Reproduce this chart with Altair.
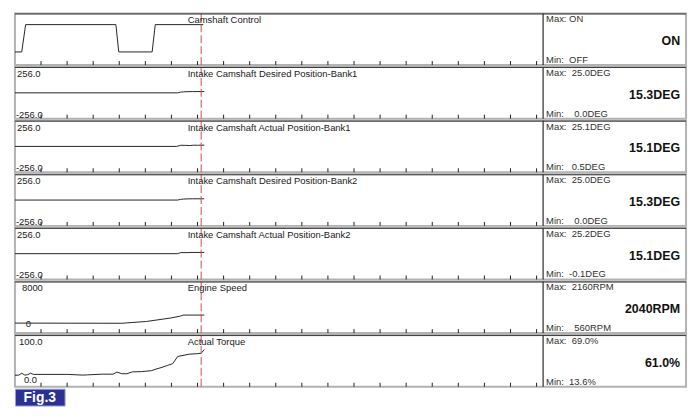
import altair as alt
import pandas as pd

# ---------------- data ----------------
# time unit = spacing between the small grid ticks along each strip
tick_times = list(range(1, 21))
plot_time_span = 20.25          # time span covered by the left (graph) part of a strip
cursor_time = 7.14              # red dashed cursor

titles = [
    "Camshaft Control",
    "Intake Camshaft Desired Position-Bank1",
    "Intake Camshaft Actual Position-Bank1",
    "Intake Camshaft Desired Position-Bank2",
    "Intake Camshaft Actual Position-Bank2",
    "Engine Speed",
    "Actual Torque",
]
top_labels = ["", "256.0", "256.0", "256.0", "256.0", "8000", "100.0"]
bottom_labels = ["", "-256.0", "-256.0", "-256.0", "-256.0", "0", "0.0"]
max_labels = ["Max: ON", "Max:\u00a0 25.0DEG", "Max:\u00a0 25.1DEG", "Max:\u00a0 25.0DEG",
              "Max:\u00a0 25.2DEG", "Max:\u00a0 2160RPM", "Max:\u00a0 69.0%"]
min_labels = ["Min:\u00a0 OFF", "Min:\u00a0\u00a0\u00a0 0.0DEG", "Min:\u00a0\u00a0 0.5DEG",
              "Min:\u00a0\u00a0\u00a0 0.0DEG", "Min:\u00a0 -0.1DEG", "Min:\u00a0\u00a0\u00a0 560RPM",
              "Min:\u00a0 13.6%"]
current_values = ["ON", "15.3DEG", "15.1DEG", "15.3DEG", "15.1DEG", "2040RPM", "61.0%"]

cam_control_t = [0, 0.26, 0.41, 3.87, 3.98, 5.26, 5.38, 7.22]
cam_control_v = [0, 0, 1, 1, 0, 0, 1, 1]          # 0 = OFF, 1 = ON

desired_b1_t = [0, 6.24, 6.35, 6.47, 6.6, 6.8, 7.26]
desired_b1_v = [0, 0, 8, 12, 14, 15, 15.3]

actual_b1_t = [0, 6.2, 6.36, 6.55, 6.7, 6.85, 7.0, 7.26]
actual_b1_v = [0.5, 0.5, 14, 13, 10, 15, 14, 15.1]

desired_b2_t = [0, 6.24, 6.35, 6.47, 6.6, 6.8, 7.26]
desired_b2_v = [0, 0, 8, 12, 14, 15, 15.3]

actual_b2_t = [0, 6.24, 6.36, 6.6, 6.75, 6.9, 7.26]
actual_b2_v = [-0.1, -0.1, 13, 12, 15, 14, 15.1]

engine_t = [0, 2.0, 4.1, 5.04, 5.98, 6.35, 6.45, 7.26]
engine_v = [600, 580, 570, 890, 1520, 1860, 2040, 2040]

torque_t = [0, 0.15, 0.26, 0.38, 0.49, 0.6, 0.71, 2.03, 2.6, 2.78, 3.35, 3.76, 3.91, 4.1,
            4.29, 4.51, 4.85, 5.23, 5.41, 5.6, 5.86, 6.05, 6.24, 6.69, 6.99, 7.14, 7.26]
torque_v = [13.6, 14, 18, 14, 15, 18, 15.5, 15.5, 14, 14.5, 16, 16, 20.5, 17,
            17, 21, 21.5, 23.5, 27, 30, 35, 38.5, 54, 59, 60, 61, 69]

series_t = [cam_control_t, desired_b1_t, actual_b1_t, desired_b2_t, actual_b2_t, engine_t, torque_t]
series_v = [cam_control_v, desired_b1_v, actual_b1_v, desired_b2_v, actual_b2_v, engine_v, torque_v]
y_domains = [[-0.48, 1.41], [-307, 307], [-307, 307], [-307, 307], [-307, 307],
             [-1200, 8090], [-10.9, 100]]
fig_label = "Fig.3"

# ---------------- layout / style ----------------
FONT = "Liberation Sans"
W_PLOT = 532
W_INFO = 144
W = W_PLOT + W_INFO
H = 52
time_total = plot_time_span * W / W_PLOT

x_enc = alt.X("t:Q", scale=alt.Scale(domain=[0, time_total], nice=False, zero=False), axis=None)


def make_row(i):
    line_df = pd.DataFrame({"t": series_t[i], "v": series_v[i]})
    y_enc = alt.Y("v:Q", scale=alt.Scale(domain=y_domains[i], nice=False, zero=False), axis=None)

    line = alt.Chart(line_df).mark_line(color="#262626", strokeWidth=1).encode(x=x_enc, y=y_enc)

    ticks = alt.Chart(pd.DataFrame({"t": tick_times})).mark_rule(
        color="#202020", strokeWidth=1
    ).encode(x=x_enc, y=alt.value(H - 4), y2=alt.value(H))

    cursor = alt.Chart(pd.DataFrame({"t": [cursor_time]})).mark_rule(
        color="#d24b4b", strokeWidth=1, strokeDash=[8, 3]
    ).encode(x=x_enc)

    txt = pd.DataFrame({
        "title": [titles[i]], "top": [top_labels[i]], "bottom": [bottom_labels[i]],
        "mx": [max_labels[i]], "mn": [min_labels[i]], "cur": [current_values[i]],
    })
    sep = alt.Chart(txt).mark_rule(color="#000000", strokeWidth=1).encode(
        x=alt.value(W_PLOT), y=alt.value(0), y2=alt.value(H))
    topline = alt.Chart(txt).mark_rule(color="#3a3a3a", strokeWidth=1).encode(
        x=alt.value(0), x2=alt.value(W), y=alt.value(0.5))

    def t(field, x, y, size=10, align="left", weight="normal", color="#202020"):
        return alt.Chart(txt).mark_text(
            align=align, baseline="alphabetic", font=FONT, fontSize=size,
            fontWeight=weight, color=color
        ).encode(x=alt.value(x), y=alt.value(y), text=alt.Text(f"{field}:N"))

    bottom_x = {5: 11, 6: 9}.get(i, 1)
    top_x = {5: 7, 6: 4}.get(i, 2)
    bottom_y = {5: 46, 6: 48}.get(i, H - 1)
    layers = [
        line, ticks, cursor, sep, topline,
        t("title", 174, 10, size=9.5),
        t("top", top_x, 10, size=9.5),
        t("bottom", bottom_x, bottom_y, size=9.5),
        t("mx", W_PLOT + 3, 9, size=9.5, color="#303030"),
        t("mn", W_PLOT + 3, 50, size=9.5, color="#303030"),
        t("cur", W - 6, 32, size=12.5, align="right", weight="bold", color="#111111"),
    ]
    return alt.layer(*layers).properties(
        width=W, height=H,
        view=alt.ViewBackground(fill="white", stroke="#b2b2b2", strokeWidth=2),
    )


rows = [make_row(i) for i in range(len(titles))]

fig = alt.Chart(pd.DataFrame({"label": [fig_label]})).mark_text(
    font=FONT, fontSize=14, fontWeight="bold", color="white", align="center", baseline="middle"
).encode(x=alt.value(25), y=alt.value(9), text="label:N").properties(
    width=50, height=17,
    view=alt.ViewBackground(fill="#2b3193", stroke="#9aa0d8", strokeWidth=1),
)

chart = alt.vconcat(*rows, fig, spacing=2, bounds="flush").properties(
    padding={"left": 4, "right": 4, "top": 2, "bottom": 0},
    background="white",
)

chart.save("out.html", embed_options={"renderer": "svg", "actions": False})
